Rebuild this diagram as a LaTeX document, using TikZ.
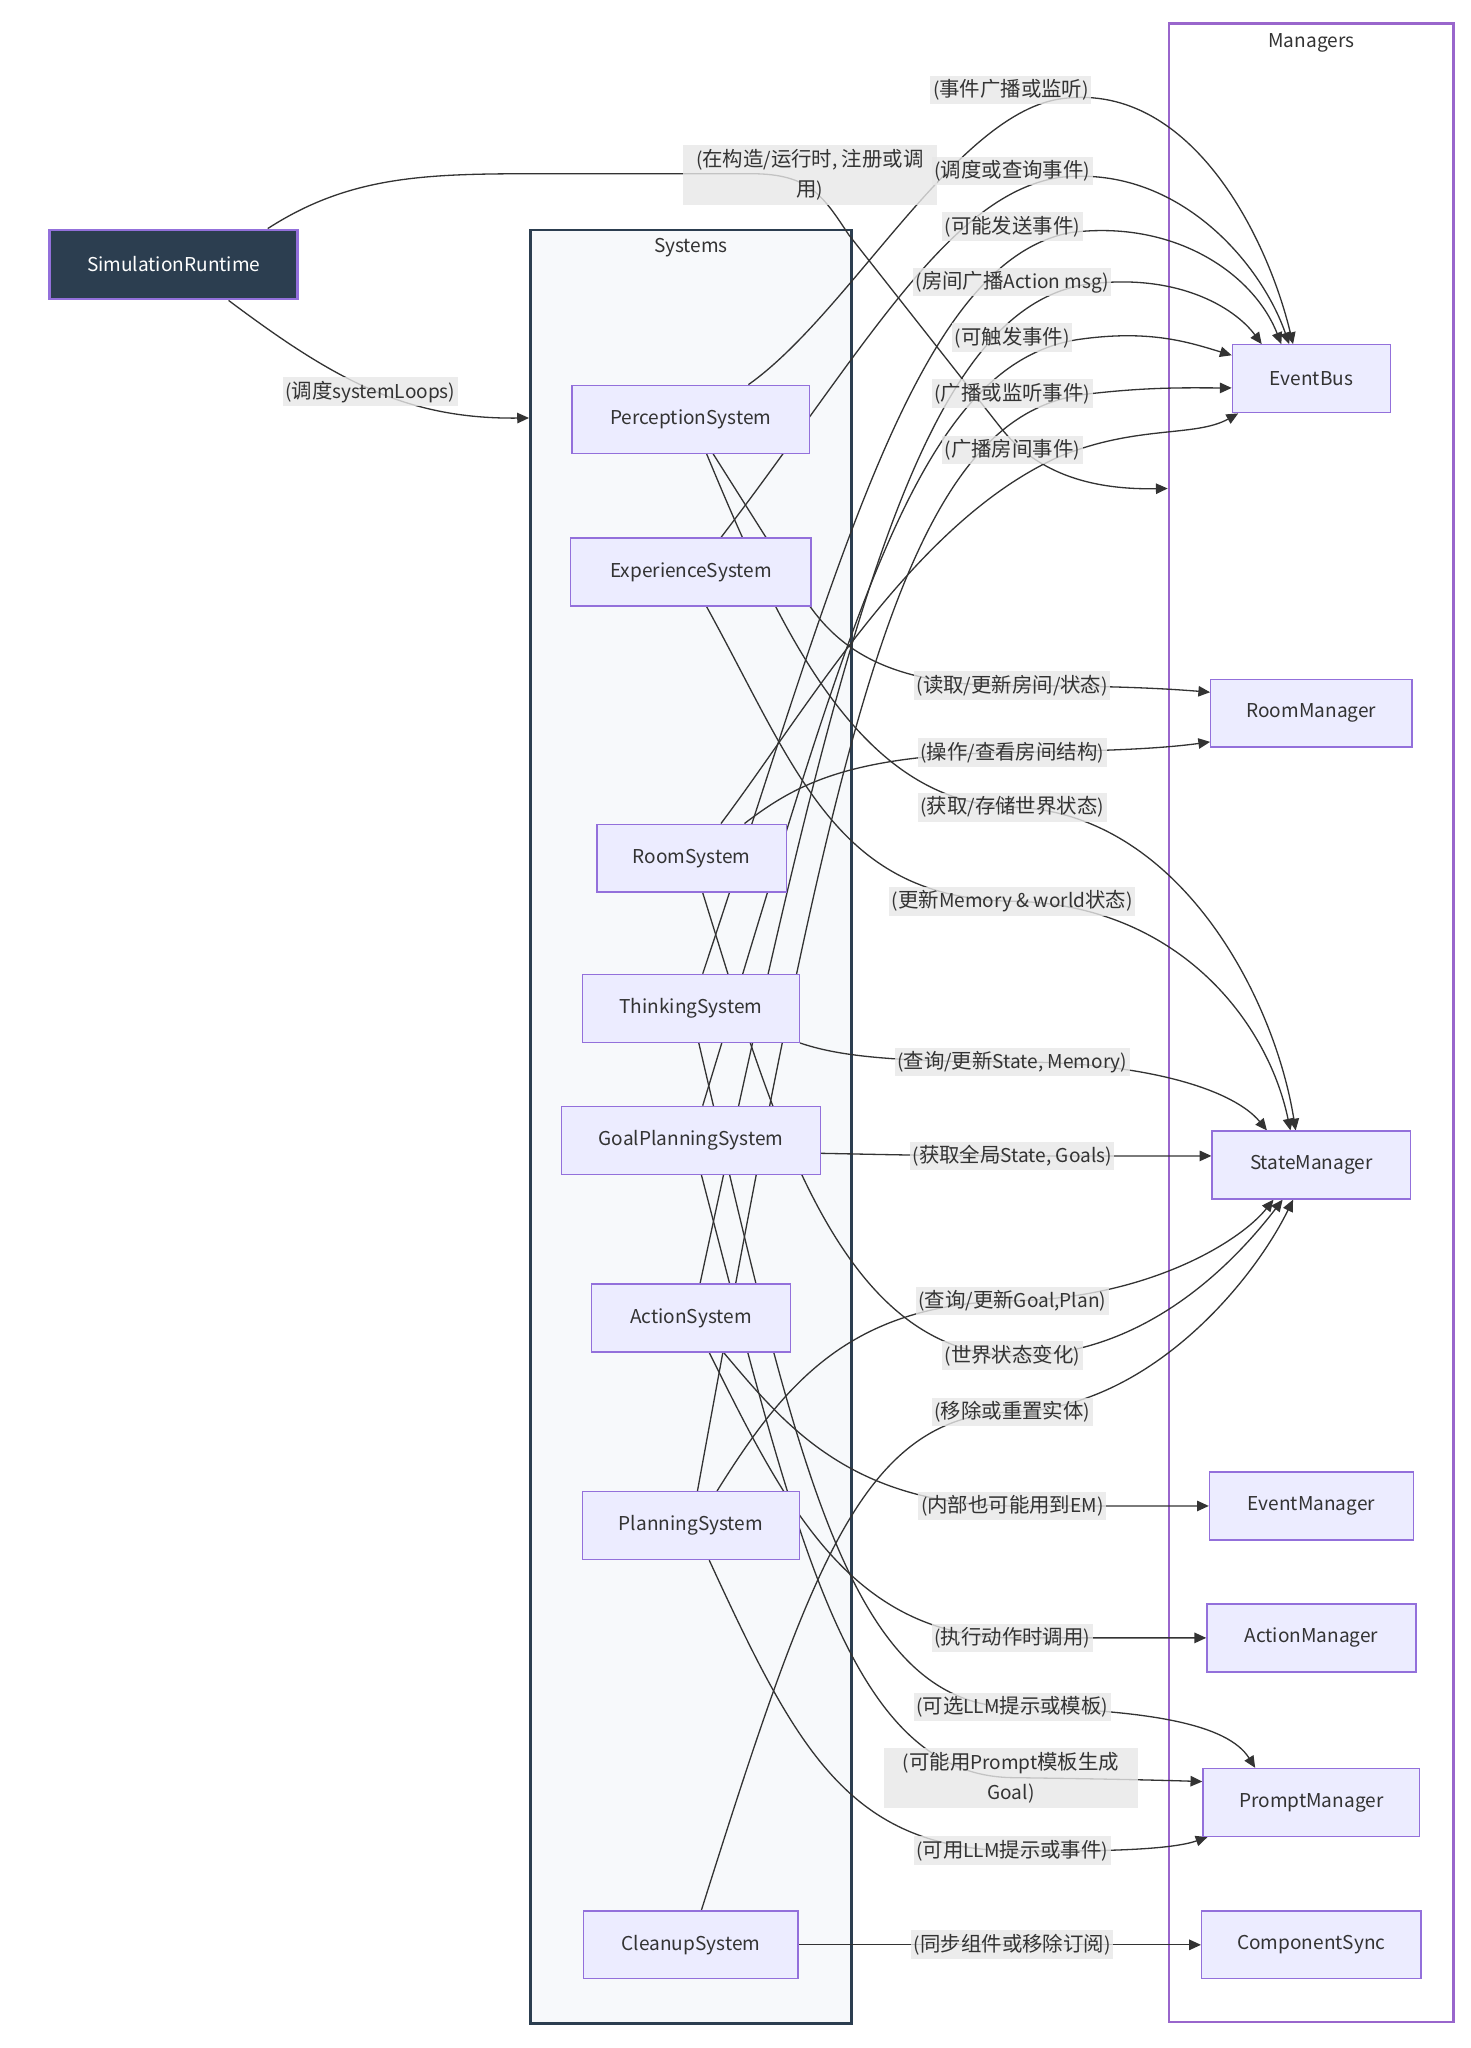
\documentclass[tikz,border=0pt]{standalone}
\usepackage{fontspec}
\setmainfont{Noto Sans CJK SC}
\newfontfamily\cj{Noto Sans CJK SC}[Scale=1.07]
\usetikzlibrary{arrows.meta,calc}
\definecolor{nodeFill}{HTML}{ECECFF}
\definecolor{nodeStroke}{HTML}{9370DB}
\definecolor{simFill}{HTML}{2C3E50}
\definecolor{sysFill}{HTML}{F7F9FB}
\definecolor{sysStroke}{HTML}{2C3E50}
\definecolor{mgrStroke}{HTML}{9966CC}
\definecolor{lblFill}{HTML}{E8E8E8}
\definecolor{edgeCol}{HTML}{333333}
\definecolor{txt}{HTML}{333333}
\pgfdeclarelayer{bg}
\pgfdeclarelayer{edges}
\pgfsetlayers{bg,edges,main}
\newcommand{\nf}{\fontsize{14.6}{18}\selectfont}
\begin{document}
\begin{tikzpicture}[x=1pt,y=-1pt,
  sysnode/.style={draw=nodeStroke, fill=nodeFill, line width=1pt, minimum height=52pt, inner sep=0pt, text=txt, font=\nf},
  lbl/.style={fill=lblFill, fill opacity=0.8, text opacity=1, inner xsep=2pt, inner ysep=0pt, minimum height=22pt, text=txt, font=\nf},
  lbltwo/.style={lbl, align=center, minimum height=46pt, minimum width=194pt, font=\fontsize{14.6}{23}\selectfont},
  conn/.style={draw=edgeCol, line width=1pt, -{Triangle[length=9pt,width=8pt]}},
  ]
\useasboundingbox (0,0) rectangle (1126,1568);

% ---------- nodes ----------
\node[sysnode, fill=simFill, line width=2pt, text=white, minimum width=190pt, minimum height=53pt] (SimRT) at (133,202.5) {SimulationRuntime};

\node[sysnode, minimum width=182pt] (Perc) at (529,321) {PerceptionSystem};
\node[sysnode, minimum width=184pt] (Exp) at (529,438) {ExperienceSystem};
\node[sysnode, minimum width=145pt] (Room) at (529.5,657) {RoomSystem};
\node[sysnode, minimum width=166pt] (Think) at (529,772) {ThinkingSystem};
\node[sysnode, minimum width=198pt] (Goal) at (529,873) {GoalPlanningSystem};
\node[sysnode, minimum width=152pt] (Act) at (529,1009) {ActionSystem};
\node[sysnode, minimum width=166pt] (Plan) at (529,1168) {PlanningSystem};
\node[sysnode, minimum width=164pt] (Clean) at (529,1489) {CleanupSystem};

\node[sysnode, minimum width=121pt] (EB) at (1004,290) {EventBus};
\node[sysnode, minimum width=154pt] (RM) at (1004,546) {RoomManager};
\node[sysnode, minimum width=152pt] (SM) at (1004,892) {StateManager};
\node[sysnode, minimum width=156pt] (EM) at (1004,1153) {EventManager};
\node[sysnode, minimum width=160pt] (AM) at (1004,1254) {ActionManager};
\node[sysnode, minimum width=166pt] (PM) at (1004,1380) {PromptManager};
\node[sysnode, minimum width=168pt] (CS) at (1004,1489) {ComponentSync};

% ---------- clusters ----------
\begin{pgfonlayer}{bg}
\fill[white] (0,0) rectangle (1126,1568);
\node[draw=sysStroke, fill=sysFill, line width=2pt, minimum width=246pt, minimum height=1373pt, inner sep=0pt] (systems) at (529,862.5) {};
\node[draw=mgrStroke, fill=white, line width=2pt, minimum width=218pt, minimum height=1530pt, inner sep=0pt] (managers) at (1004,783) {};
\node[text=txt, font=\nf] (systitle) at (529,189.5) {Systems};
\node[text=txt, font=\nf] (mgrtitle) at (1004,32.5) {Managers};
\end{pgfonlayer}

% ---------- labels ----------
\node[lbl] (l0) at (283.5,300) {({\cj 调度}systemLoops)};
\node[lbltwo] (l1) at (620,134) {({\cj 在构造}/{\cj 运行时}, {\cj 注册或调}\\{\cj 用})};

\node[lbl] (e1) at (774,69) {({\cj 事件广播或监听})};
\node[lbl] (e2) at (775,131) {({\cj 调度或查询事件})};
\node[lbl] (e3) at (775,173.5) {({\cj 可能发送事件})};
\node[lbl] (e4) at (775,216) {({\cj 房间广播}Action msg)};
\node[lbl] (e5) at (775,258.5) {({\cj 可触发事件})};
\node[lbl] (e6) at (775,301.5) {({\cj 广播或监听事件})};
\node[lbl] (e7) at (775,344.5) {({\cj 广播房间事件})};

\node[lbl] (r1) at (775,525) {({\cj 读取}/{\cj 更新房间}/{\cj 状态})};
\node[lbl] (r2) at (775,576) {({\cj 操作}/{\cj 查看房间结构})};

\node[lbl] (s1) at (775,618) {({\cj 获取}/{\cj 存储世界状态})};
\node[lbl] (s2) at (775,690) {({\cj 更新}Memory \& world{\cj 状态})};
\node[lbl] (s3) at (775,813) {({\cj 查询}/{\cj 更新}State, Memory)};
\node[lbl] (s4) at (775,885) {({\cj 获取全局}State, Goals)};
\node[lbl] (s5) at (775,996) {({\cj 查询}/{\cj 更新}Goal,Plan)};
\node[lbl] (s6) at (775,1038) {({\cj 世界状态变化})};
\node[lbl] (s7) at (775,1081) {({\cj 移除或重置实体})};

\node[lbl] (m1) at (775,1153) {({\cj 内部也可能用到}EM)};
\node[lbl] (a1) at (775,1254) {({\cj 执行动作时调用})};
\node[lbl] (p1) at (775,1307) {({\cj 可选}LLM{\cj 提示或模板})};
\node[lbltwo] (p2) at (774,1361) {({\cj 可能用}Prompt{\cj 模板生成}\\Goal)};
\node[lbl] (p3) at (775,1417) {({\cj 可用}LLM{\cj 提示或事件})};
\node[lbl] (c1) at (775,1489) {({\cj 同步组件或移除订阅})};

% ---------- edges ----------
\begin{pgfonlayer}{edges}
% runtime
\draw[conn] ($(SimRT.south)+(42,0)$) .. controls (255,290) and (310,321) .. ($(systems.north west)+(0,145)$);
\draw[conn] ($(SimRT.north)+(72,0)$) .. controls (270,133) and (330,133) .. (420,133) -- (575,133) .. controls (620,133) and (630,150) .. (650,180) -- (765,326) .. controls (795,365) and (840,375) .. ($(managers.north west)+(0,357)$);

% EventBus
\draw[conn] ($(Perc.north)+(44,0)$) .. controls (650,240) and (730,90) .. (810,76) .. controls (910,60) and (970,180) .. ($(EB.north)+(-14,0)$);
\draw[conn] ($(Exp.north)+(23,0)$) .. controls (660,270) and (725,150) .. (810,136) .. controls (900,125) and (965,200) .. ($(EB.north)+(-17,0)$);
\draw[conn] ($(Think.north)+(9,0)$) .. controls (640,440) and (700,200) .. (820,178) .. controls (900,168) and (960,210) .. ($(EB.north)+(-23,0)$);
\draw[conn] ($(Act.north)+(7,0)$) .. controls (640,500) and (700,240) .. (830,218) .. controls (900,208) and (945,235) .. ($(EB.north)+(-38,0)$);
\draw[conn] ($(Goal.north)+(9,0)$) .. controls (650,480) and (700,280) .. (825,260) .. controls (880,252) and (910,262) .. ($(EB.west)+(0,-18)$);
\draw[conn] ($(Plan.north)+(5,0)$) .. controls (640,560) and (690,320) .. (830,302) .. controls (880,296) and (910,297) .. ($(EB.west)+(0,7)$);
\draw[conn] ($(Room.north)+(22.5,0)$) .. controls (620,540) and (700,400) .. (810,350) .. controls (870,325) and (915,335) .. ($(EB.south west)+(5,0)$);

% RoomManager
\draw[conn] ($(Perc.south)+(17,0)$) -- (614,455) .. controls (640,497) and (680,525) .. (775,525) .. controls (850,525) and (890,527) .. ($(RM.west)+(0,-16)$);
\draw[conn] ($(Room.north)+(40.5,0)$) .. controls (610,600) and (650,578) .. (775,576) .. controls (850,575) and (890,573) .. ($(RM.west)+(0,22)$);

% StateManager
\draw[conn] ($(Perc.south)+(12,0)$) .. controls (600,490) and (660,615) .. (775,618) .. controls (900,621) and (975,760) .. ($(SM.north)+(-12,0)$);
\draw[conn] ($(Exp.south)+(12,0)$) .. controls (610,590) and (640,688) .. (775,690) .. controls (900,692) and (970,780) .. ($(SM.north)+(-16,0)$);
\draw[conn] (Think.south east) .. controls (640,808) and (680,813) .. (775,813) .. controls (880,813) and (945,835) .. ($(SM.north)+(-34,0)$);
\draw[conn] ($(Goal.east)+(0,10)$) .. controls (680,884) and (720,885) .. (775,885) -- ($(SM.west)+(0,-7)$);
\draw[conn] ($(Plan.north)+(20,0)$) .. controls (600,1060) and (650,998) .. (775,996) .. controls (880,994) and (950,950) .. ($(SM.south)+(-29,0)$);
\draw[conn] ($(Room.south)+(8.5,0)$) .. controls (590,850) and (640,1036) .. (775,1038) .. controls (880,1040) and (950,960) .. ($(SM.south)+(-22,0)$);
\draw[conn] ($(Clean.north)+(8,0)$) .. controls (620,1200) and (660,1083) .. (775,1081) .. controls (880,1079) and (960,980) .. ($(SM.south)+(-14,0)$);

% EventManager / ActionManager
\draw[conn] ($(Act.south)+(25,0)$) .. controls (600,1090) and (650,1152) .. (775,1153) -- (EM.west);
\draw[conn] ($(Act.south)+(14,0)$) .. controls (600,1150) and (650,1253) .. (775,1254) -- (AM.west);

% PromptManager
\draw[conn] ($(Think.south)+(6,0)$) .. controls (610,1120) and (650,1305) .. (775,1307) .. controls (880,1309) and (940,1320) .. ($(PM.north)+(-43,0)$);
\draw[conn] ($(Goal.south)+(8,0)$) .. controls (610,1180) and (650,1359) .. (775,1361) .. controls (850,1362) and (890,1363) .. ($(PM.west)+(0,-16)$);
\draw[conn] ($(Plan.south)+(14,0)$) .. controls (610,1340) and (650,1415) .. (775,1417) .. controls (860,1418) and (900,1415) .. ($(PM.south west)+(4,0)$);

% ComponentSync
\draw[conn] (Clean.east) -- (CS.west);
\end{pgfonlayer}
\end{tikzpicture}
\end{document}
